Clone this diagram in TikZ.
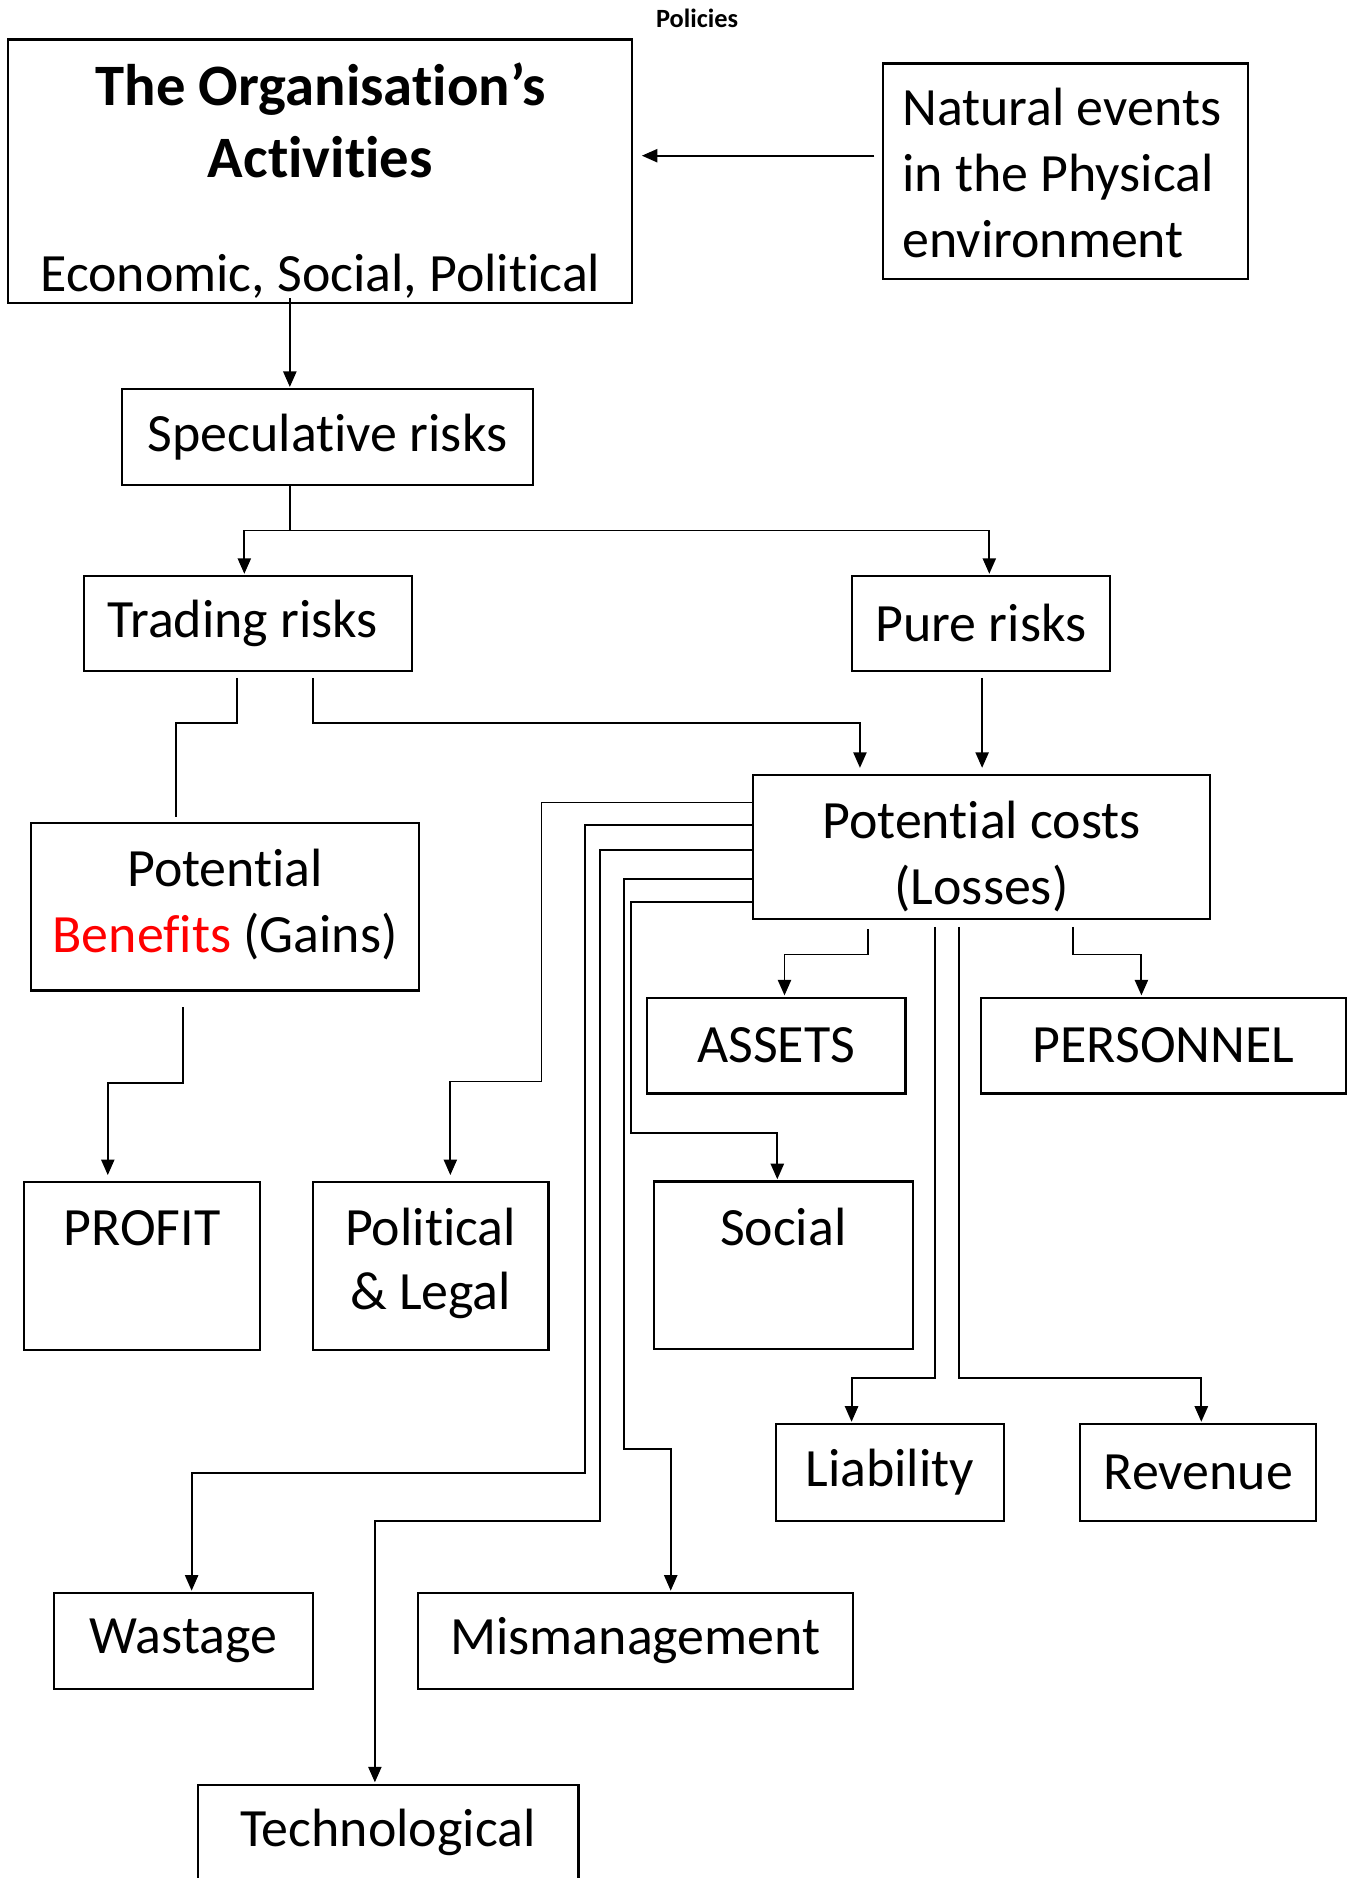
\documentclass[tikz,border=0pt]{standalone}
\usepackage{fontspec}
\setmainfont[Ligatures=NoCommon]{Carlito}
\usetikzlibrary{arrows.meta}
\tikzset{
  box/.style={draw, line width=1.8pt, inner sep=0pt, align=center, font=\fontsize{45}{55}\selectfont},
  link/.style={line width=1.6pt},
  arr/.style={link, -{Triangle[length=13pt,width=11pt]}}
}
\begin{document}
\begin{tikzpicture}[x=1pt, y=-1pt]
\useasboundingbox (0,0) rectangle (1128,1568);
\node[font=\fontsize{22}{26}\selectfont\bfseries] (policies) at (582,15) {Policies};
\node[box, minimum width=521, minimum height=220, text height=200pt, text depth=0pt] (org) at (267.5,143) {\fontsize{49}{60}\selectfont\bfseries The Organisation’s\\[5pt]\fontsize{49}{60}\selectfont\bfseries Activities\\[40pt]\normalfont\fontsize{45}{55}\selectfont Economic, Social, Political};
\node[box, minimum width=305, minimum height=180, align=left, text height=144pt, text depth=0pt] (nat) at (889.5,143) {Natural events\hspace*{6pt}\\in the Physical\\environment};
\node[box, minimum width=343, minimum height=80] (spec) at (273.5,365) {Speculative risks};
\node[box, minimum width=274, minimum height=79] (trad) at (207,520.5) {Trading risks\hspace{9pt}};
\node[box, minimum width=216, minimum height=79] (pure) at (819,520.5) {Pure risks};
\node[box, minimum width=381, minimum height=120, text height=96pt, text depth=0pt] (costs) at (819.5,707) {Potential costs\\(Losses)};
\node[box, minimum width=324, minimum height=140, text height=76pt, text depth=0pt] (bene) at (188,757) {Potential\\\textcolor{red}{Benefits} (Gains)};
\node[box, minimum width=216, minimum height=80] (assets) at (648,873) {ASSETS};
\node[box, minimum width=305, minimum height=80] (pers) at (971.5,873) {PERSONNEL};
\node[box, minimum width=197, minimum height=140, text height=0pt, text depth=35pt] (profit) at (118.5,1057) {PROFIT};
\node[box, minimum width=197, minimum height=140, font=\fontsize{45}{53}\selectfont, text height=72pt, text depth=0pt] (pol) at (359.5,1057) {Political\\\& Legal};
\node[box, minimum width=216, minimum height=140, text height=0pt, text depth=34pt] (social) at (654,1056.5) {Social};
\node[box, minimum width=190, minimum height=81] (liab) at (743,1229.5) {Liability};
\node[box, minimum width=197, minimum height=81] (rev) at (1000.5,1229.5) {Revenue};
\node[box, minimum width=216, minimum height=80] (waste) at (153,1370) {Wastage};
\node[box, minimum width=363, minimum height=80] (mism) at (530.5,1370) {Mismanagement};
\node[box, minimum width=318, minimum height=80] (tech) at (324,1530) {Technological};
\draw[arr] ([xshift=-6,yshift=13]nat.west) -- ([xshift=7,yshift=13]org.east);
\draw[arr] ([xshift=-25.5,yshift=5]org.south) -- ([xshift=-31.5,yshift=1]spec.north);
\draw[arr] ([xshift=-31.5]spec.south) -- ++(0,37) -| ([xshift=-3,yshift=1]trad.north);
\draw[arr] ([xshift=-31.5]spec.south) -- ++(0,37) -| ([xshift=7,yshift=1]pure.north);
\draw[link] ([xshift=-9,yshift=-5]trad.south) -- ++(0,38) -| ([xshift=-41,yshift=4]bene.north);
\draw[arr] ([xshift=54,yshift=-5]trad.south) -- ++(0,38) -| ([xshift=-101.5,yshift=5]costs.north);
\draw[arr] ([xshift=1,yshift=-5]pure.south) -- ([xshift=0.5,yshift=5]costs.north);
\draw[arr] ([xshift=-35,yshift=-13]bene.south) -- ++(0,63) -| ([xshift=-28.5,yshift=5]profit.north);
\draw[arr] ([yshift=37]costs.west) -- ++(-176,0) -- ++(0,233) -| ([xshift=16.5,yshift=5]pol.north);
\draw[arr] ([yshift=18]costs.west) -- ++(-140,0) -- ++(0,541) -| ([xshift=7,yshift=1]waste.north);
\draw[arr] ([yshift=-3]costs.west) -- ++(-127,0) -- ++(0,560) -| ([xshift=-11,yshift=1]tech.north);
\draw[arr] ([yshift=-27]costs.west) -- ++(-107,0) -- ++(0,476) -| ([xshift=29.5,yshift=1]mism.north);
\draw[arr] ([yshift=-46]costs.west) -- ++(-101,0) -- ++(0,193) -| ([xshift=-5,yshift=1]social.north);
\draw[arr] ([xshift=-94.5,yshift=-8]costs.south) -- ++(0,21) -| ([xshift=7,yshift=1]assets.north);
\draw[arr] ([xshift=-38.5,yshift=-6]costs.south) -- ++(0,377) -| ([xshift=-32,yshift=1]liab.north);
\draw[arr] ([xshift=-18.5,yshift=-6]costs.south) -- ++(0,377) -| ([xshift=2.5,yshift=1]rev.north);
\draw[arr] ([xshift=76.5,yshift=-6]costs.south) -- ++(0,23) -| ([xshift=-18.5,yshift=1]pers.north);
\end{tikzpicture}
\end{document}
